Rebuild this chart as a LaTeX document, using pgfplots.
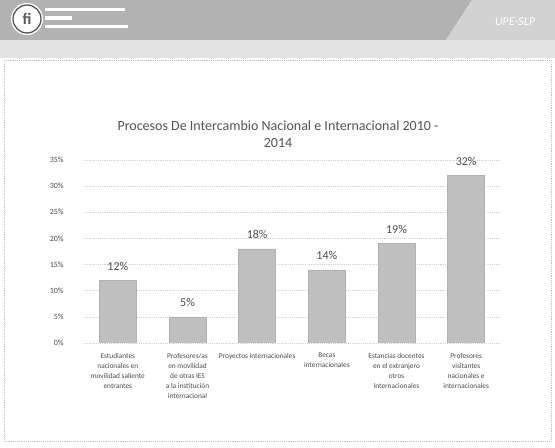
\documentclass[border=0pt]{standalone}
\usepackage{fontspec}
\setmainfont{Carlito}
\usepackage{pgfplots}
\pgfplotsset{compat=1.18}
\begin{document}
\begin{tikzpicture}[x=0.75pt,y=0.75pt]
% page in pixel units of the reference (y upwards, 448 = top edge)
\fill[white] (0,0) rectangle (555,448);
% header band
\fill[gray!60] (0,448) -- (472,448) -- (446,408) -- (0,408) -- cycle;
\fill[gray!35] (472,448) -- (555,448) -- (555,408) -- (446,408) -- cycle;
\fill[gray!22] (0,408) rectangle (555,390);
\fill[white] (27,429) circle (16);
\draw[gray!70!black, line width=1pt] (27,429) circle (14);
\node[font=\bfseries\large, text=gray!70!black] at (27,429) {fi};
\fill[white] (45,440) rectangle (125,437);
\fill[white] (45,432) rectangle (72,428);
\fill[white] (45,423) rectangle (128,420);
\node[font=\itshape\small, text=white] at (515,426) {UPE-SLP};
\draw[gray!50, densely dotted] (4,388) rectangle (551,7);

\node[align=center, font=\fontsize{10.5}{13}\selectfont, text=gray!65!black]
  at (278,314) {Procesos De Intercambio Nacional e Internacional 2010 -\\2014};

\begin{axis}[
    at={(62.25pt,78.75pt)}, anchor=south west,
    scale only axis, width=313.5pt, height=137.25pt,
    ybar, bar width=27.75pt,
    xmin=-0.5, xmax=5.5, ymin=0, ymax=35,
    xtick={0,1,2,3,4,5},
    ytick={0,5,10,15,20,25,30,35},
    axis line style={draw=none},
    major tick length=0pt,
    ymajorgrids, grid style={gray!35, densely dotted},
    /pgf/number format/assume math mode=true,
    yticklabel={\pgfmathprintnumber{\tick}\%},
    yticklabel style={font=\fontsize{6}{7}\selectfont, text=gray!60!black, xshift=-11pt},
    xticklabels={
      {Estudiantes\\nacionales en\\movilidad saliente\\entrantes},
      {Profesores/as\\en movilidad\\de otras IES\\a la institución\\internacional},
      {Proyectos internacionales},
      {Becas\\internacionales},
      {Estancias docentes\\en el extranjero\\otros\\internacionales},
      {Profesores\\visitantes\\nacionales e\\internacionales}},
    xticklabel style={align=center, font=\fontsize{5.5}{7.5}\selectfont, text=gray!60!black, yshift=-4pt},
    nodes near coords={\pgfmathprintnumber{\pgfplotspointmeta}\%},
    nodes near coords style={font=\fontsize{9}{10}\selectfont, text=gray!60!black, yshift=4pt},
]
\addplot[fill=gray!50, draw=gray!60] coordinates {
    (0,12) (1,5) (2,18) (3,14) (4,19) (5,32)
};
\end{axis}
\end{tikzpicture}
\end{document}
